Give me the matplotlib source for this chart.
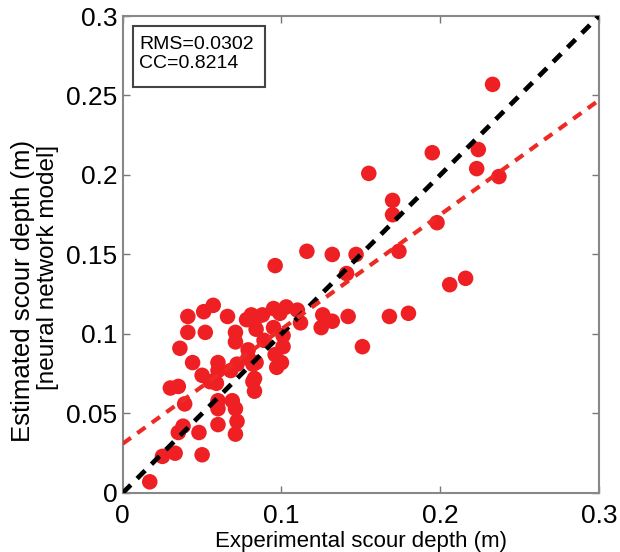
import matplotlib
matplotlib.use("Agg")
import matplotlib.pyplot as plt
from matplotlib.patches import Rectangle

plt.rcParams['font.family'] = ['Liberation Sans', 'DejaVu Sans']

# experimental vs. estimated scour depth (m)
experimental = [0.017, 0.025, 0.033, 0.050, 0.035, 0.038, 0.048, 0.060, 0.071, 0.072,
                0.039, 0.060, 0.060, 0.069, 0.071, 0.030, 0.035, 0.082, 0.083, 0.050,
                0.055, 0.059, 0.068, 0.072, 0.044, 0.060, 0.060, 0.082, 0.036, 0.079,
                0.079, 0.071, 0.071, 0.041, 0.051, 0.057, 0.041, 0.052, 0.066, 0.078,
                0.081, 0.084, 0.084, 0.088, 0.095, 0.099, 0.103, 0.110, 0.112, 0.095,
                0.101, 0.089, 0.101, 0.096, 0.100, 0.097, 0.084, 0.083, 0.126, 0.132,
                0.125, 0.142, 0.151, 0.168, 0.180, 0.096, 0.116, 0.132, 0.147, 0.141,
                0.174, 0.206, 0.216, 0.155, 0.170, 0.170, 0.198, 0.195, 0.224, 0.223,
                0.237, 0.233]
estimated = [0.007, 0.023, 0.025, 0.024, 0.038, 0.042, 0.038, 0.043, 0.037, 0.045,
             0.056, 0.058, 0.053, 0.058, 0.053, 0.066, 0.067, 0.070, 0.064, 0.074,
             0.070, 0.069, 0.077, 0.081, 0.082, 0.082, 0.077, 0.081, 0.091, 0.090,
             0.085, 0.101, 0.095, 0.111, 0.114, 0.118, 0.101, 0.101, 0.111, 0.109,
             0.112, 0.110, 0.103, 0.112, 0.116, 0.113, 0.117, 0.115, 0.107, 0.104,
             0.099, 0.096, 0.092, 0.087, 0.082, 0.079, 0.082, 0.072, 0.112, 0.108,
             0.104, 0.111, 0.092, 0.111, 0.113, 0.143, 0.152, 0.150, 0.150, 0.138,
             0.152, 0.131, 0.135, 0.201, 0.184, 0.175, 0.170, 0.214, 0.216, 0.204,
             0.199, 0.257]

fit_intercept = 0.031
fit_slope = 0.72
rms = 0.0302
cc = 0.8214

ticks = [0, 0.05, 0.1, 0.15, 0.2, 0.25, 0.3]
tick_labels = ['0', '0.05', '0.1', '0.15', '0.2', '0.25', '0.3']
xticks = [0, 0.1, 0.2, 0.3]
xtick_labels = ['0', '0.1', '0.2', '0.3']

fig = plt.figure(figsize=(6.2, 5.52), dpi=100)
ax = fig.add_axes([0.198, 0.107, 0.768, 0.864])

ax.scatter(experimental, estimated, s=125, color='#ee2024', edgecolors='none', zorder=2)

line_x = [0, 0.3]
ax.plot(line_x, line_x, color='black', linestyle=(0, (2.4, 1.9)), linewidth=3.4, zorder=3)
ax.plot(line_x, [fit_intercept + fit_slope * v for v in line_x], color='#ee2a24',
        linestyle=(0, (2.4, 1.9)), linewidth=3.0, zorder=3)

ax.set_xlim(0, 0.3)
ax.set_ylim(0, 0.3)
ax.set_xticks(xticks)
ax.set_xticklabels(xtick_labels)
ax.set_yticks(ticks)
ax.set_yticklabels(tick_labels)
ax.tick_params(direction='in', length=5, width=1, color='#777777', labelsize=19,
               top=True, right=True)
ax.tick_params(axis='x', pad=8)
ax.tick_params(axis='y', pad=4)
for sp in ax.spines.values():
    sp.set_color('#888888')
    sp.set_linewidth(1.5)

ax.set_xlabel('Experimental scour depth (m)', fontsize=16, labelpad=2)

# two-line y label, each line placed on its own like the original
fig.text(0.037, 0.473, 'Estimated scour depth (m)', rotation=90, fontsize=18.5,
         ha='center', va='center')
fig.text(0.078, 0.516, '[neural network model]', rotation=90, fontsize=17.5,
         ha='center', va='center')

ax.add_patch(Rectangle((0.021, 0.851), 0.277, 0.128, transform=ax.transAxes,
                       facecolor='white', edgecolor='#444444', linewidth=1.5, zorder=4))
ax.text(0.034, 0.959, f'RMS={rms:.4f}\nCC={cc:.4f}', transform=ax.transAxes,
        fontsize=14, va='top', ha='left', linespacing=1.2, zorder=5)

fig.savefig('out.png', dpi=100)
